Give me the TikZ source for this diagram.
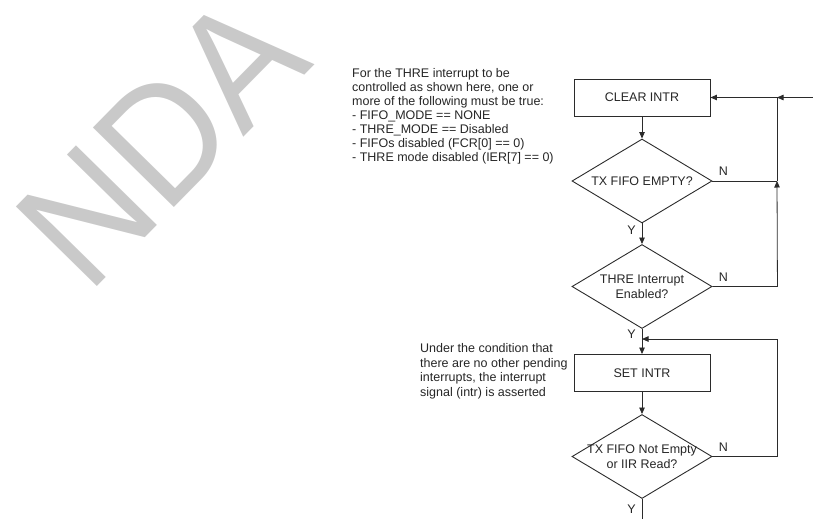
\documentclass[tikz,border=0pt]{standalone}
\usepackage{fontspec}
\setmainfont{Liberation Sans}
\usepackage{tikz}
\usetikzlibrary{arrows.meta, positioning, shapes.geometric, calc}
\definecolor{intrink}{HTML}{262626}
\definecolor{intrline}{HTML}{2B2B2B}
\definecolor{intrmark}{HTML}{C9C9C9}
\tikzset{
  flowbox/.style={draw=intrline, line width=0.9pt, minimum width=136pt,
    minimum height=37pt, inner sep=0pt, text=intrink,
    font=\fontsize{12.5}{14}\selectfont},
  flowtest/.style={diamond, draw=intrline, line width=0.9pt, aspect=1.67,
    minimum width=140pt, minimum height=84pt, inner xsep=-12pt, inner ysep=0pt,
    align=center, text=intrink, font=\fontsize{12.5}{15}\selectfont},
  flowline/.style={draw=intrline, line width=0.8pt},
  flowarrow/.style={flowline, -{Triangle[length=6.5pt, width=5.5pt]}},
  branch/.style={text=intrink, inner sep=1pt, font=\fontsize{12.5}{14}\selectfont},
  sidenote/.style={anchor=north west, align=left, inner sep=0pt, text=intrink},
}

\begin{document}
\begin{tikzpicture}[x=1pt, y=-1pt]
  \useasboundingbox (0,0) rectangle (813,519);

  % watermark
  \node[anchor=base west, rotate=45.5, inner sep=0pt, text=intrmark,
    font=\fontsize{165}{165}\selectfont] (mark) at (88,296)
    {\scalebox{0.93}[1]{NDA}};

  % side notes
  \node[sidenote, font=\fontsize{12.5}{14}\selectfont] (threnote) at (352,68.5)
    {For the THRE interrupt to be\\
     controlled as shown here, one or\\
     more of the following must be true:\\
     - FIFO\_MODE == NONE\\
     - THRE\_MODE == Disabled\\
     - FIFOs disabled (FCR[0] == 0)\\
     - THRE mode disabled (IER[7] == 0)};
  \node[sidenote, font=\fontsize{12.5}{14.6}\selectfont] (setnote) at (420,343.5)
    {Under the condition that\\
     there are no other pending\\
     interrupts, the interrupt\\
     signal (intr) is asserted};

  % flow
  \node[flowbox] (clear) at (642,97.5) {CLEAR INTR};
  \node[flowtest] (empty) at (642,181) {TX FIFO EMPTY?};
  \node[flowtest] (enabled) at (642,286.5) {THRE Interrupt\\Enabled?};
  \node[flowbox] (set) at (642,373) {SET INTR};
  \node[flowtest] (read) at (642,456.5) {TX FIFO Not Empty\\or IIR Read?};

  \coordinate (loopin) at (813,97.5);
  \coordinate (topjoin) at (777,97.5);
  \coordinate (sidejoin) at (777,181);
  \coordinate (setjoin) at (642,339);
  \coordinate (exit) at (642,519);

  \draw[flowarrow] (clear) -- (empty);
  \draw[flowarrow] (empty) -- node[branch, pos=0.35, left=5pt] {Y} (enabled);
  \draw[flowarrow] (enabled) -- node[branch, pos=0.22, left=5pt] {Y} (set);
  \draw[flowarrow] (set) -- (read);
  \draw[flowline] (read) -- node[branch, pos=0.5, left=5pt] {Y} (exit);

  \draw[flowline] (empty.east) -- node[branch, pos=0.17, above=4pt] {N} (sidejoin);
  \draw[flowarrow] (enabled.east) -- node[branch, pos=0.17, above=4pt] {N}
    ++(65,0) -- (sidejoin);
  \draw[flowarrow] (sidejoin) |- (clear.east);
  \draw[flowarrow] (loopin) -- (topjoin);
  \draw[flowarrow] (read.east) -- node[branch, pos=0.17, above=4pt] {N}
    ++(65,0) |- (setjoin);
\end{tikzpicture}
\end{document}
